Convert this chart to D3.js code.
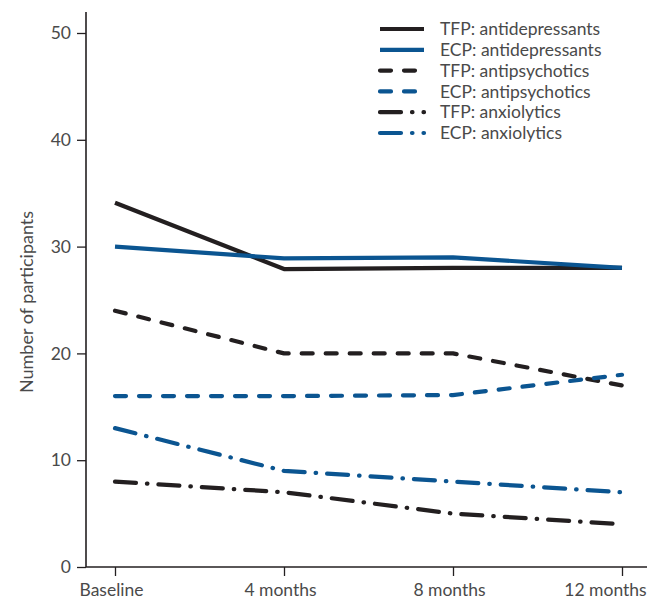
<!DOCTYPE html>
<html>
<head>
<meta charset="utf-8">
<script src="https://cdn.jsdelivr.net/npm/d3@7"></script>
<style>
  body { margin: 0; background: #fff; }
  svg text { font-family: Lato, "Open Sans", sans-serif; fill: #4a4a4a; }
</style>
</head>
<body>
<div id="anchor-point"></div>
<script>
// timepoints on the x axis
const timepoints = ["Baseline", "4 months", "8 months", "12 months"];
const y_ticks = [0, 10, 20, 30, 40, 50];

// number of participants per series
const tfp_antidepressants = [34.1, 27.9, 28, 28];
const ecp_antidepressants = [30, 28.9, 29, 28];
const tfp_antipsychotics = [24, 20, 20, 17];
const ecp_antipsychotics = [16, 16, 16.1, 18];
const tfp_anxiolytics = [8, 7, 5, 4];
const ecp_anxiolytics = [13, 9, 8, 7];

const series_names = [
  "TFP: antidepressants", "ECP: antidepressants",
  "TFP: antipsychotics", "ECP: antipsychotics",
  "TFP: anxiolytics", "ECP: anxiolytics"
];

function main() {
  const width = 660, height = 606;
  const black = "#231f20", blue = "#0b5591";
  const font_size = 17.5;
  const line_width = 4.2;

  const dash = { solid: null, dashed: "11,13", dashdot: "21,11,0.5,11" };

  const series = [
    { name: series_names[0], values: tfp_antidepressants, color: black, dash: dash.solid },
    { name: series_names[1], values: ecp_antidepressants, color: blue, dash: dash.solid },
    { name: series_names[2], values: tfp_antipsychotics, color: black, dash: dash.dashed },
    { name: series_names[3], values: ecp_antipsychotics, color: blue, dash: dash.dashed },
    { name: series_names[4], values: tfp_anxiolytics, color: black, dash: dash.dashdot },
    { name: series_names[5], values: ecp_anxiolytics, color: blue, dash: dash.dashdot }
  ];

  const x = d3.scalePoint().domain(timepoints).range([115, 622]);
  const y = d3.scaleLinear().domain([0, 50]).range([567, 33]);

  const svg = d3.select("#anchor-point")
    .append("svg")
    .attr("width", width)
    .attr("height", height);

  //// axes ////
  const y_axis = svg.append("g")
    .attr("transform", "translate(86,0)")
    .call(d3.axisLeft(y).tickValues(y_ticks).tickSize(9).tickPadding(6));

  const x_axis = svg.append("g")
    .attr("transform", `translate(0,${y(0)})`)
    .call(d3.axisBottom(x).tickSize(9).tickPadding(8).tickSizeOuter(0));

  [y_axis, x_axis].forEach(g => {
    g.select(".domain").remove();
    g.selectAll(".tick line").attr("stroke", black).attr("stroke-width", 1.3);
    g.selectAll(".tick text").attr("font-size", font_size).style("fill", "#4a4a4a")
      .style("font-family", "Lato, sans-serif");
  });

  // the labels sit a little left of their ticks; keep the last one inside the axis end
  x_axis.selectAll(".tick text")
    .attr("dx", (d, i) => i === timepoints.length - 1 ? -17 : -4);

  // axis lines drawn by hand so they run past the ticks like the original
  svg.append("line")
    .attr("x1", 86).attr("x2", 86).attr("y1", 12).attr("y2", y(0))
    .attr("stroke", black).attr("stroke-width", 1.6);
  svg.append("line")
    .attr("x1", 86).attr("x2", 647).attr("y1", y(0)).attr("y2", y(0))
    .attr("stroke", black).attr("stroke-width", 1.6);

  svg.append("text")
    .attr("transform", "translate(33,302) rotate(-90)")
    .attr("text-anchor", "middle")
    .attr("font-size", 18)
    .text("Number of participants");

  //// lines ////
  const line = d3.line()
    .x((d, i) => x(timepoints[i]))
    .y(d => y(d));

  svg.selectAll(".series")
    .data(series)
    .enter()
    .append("path")
    .attr("class", "series")
    .attr("d", d => line(d.values))
    .attr("fill", "none")
    .attr("stroke", d => d.color)
    .attr("stroke-width", line_width)
    .attr("stroke-linecap", d => d.dash ? "round" : "butt")
    .attr("stroke-linejoin", "round")
    .attr("stroke-dasharray", d => d.dash);

  //// legend ////
  const legend = svg.selectAll(".legend")
    .data(series)
    .enter()
    .append("g")
    .attr("class", "legend")
    .attr("transform", (d, i) => `translate(378, ${29 + i * 20.8})`);

  legend.append("line")
    .attr("x1", 2).attr("x2", 46)
    .attr("stroke", d => d.color)
    .attr("stroke-width", line_width)
    .attr("stroke-linecap", d => d.dash ? "round" : "butt")
    .attr("stroke-dasharray", d => d.dash);

  legend.append("text")
    .attr("x", 62)
    .attr("y", 0)
    .attr("dy", "0.35em")
    .attr("font-size", font_size)
    .text(d => d.name);
}

main()
</script>
</body>
</html>
